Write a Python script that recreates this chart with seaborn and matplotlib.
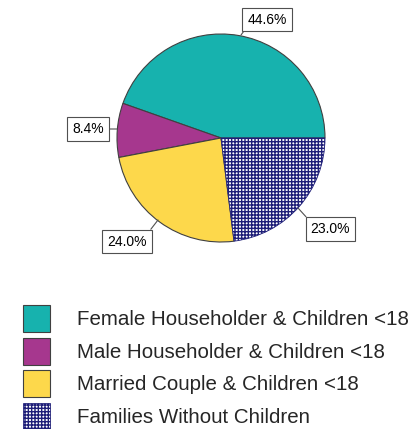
import matplotlib
matplotlib.use("Agg")
import matplotlib.pyplot as plt
import seaborn as sns

# data
categories = [
    "Female Householder & Children <18",
    "Male Householder & Children <18",
    "Married Couple & Children <18",
    "Families Without Children",
]
shares = [44.6, 8.4, 24.0, 23.0]
pct_labels = ["44.6%", "8.4%", "24.0%", "23.0%"]
colors = ["#17B2AE", "#A6378E", "#FDD84B", "white"]

sns.set_style("white")
plt.rcParams["font.family"] = ["Liberation Sans", "DejaVu Sans"]

W, H = 410, 429
fig = plt.figure(figsize=(W / 100, H / 100), dpi=100)

cx, cy, r = 221, 138, 104
ax = fig.add_axes([(cx - r) / W, (H - cy - r) / H, 2 * r / W, 2 * r / H])

wedges, _ = ax.pie(
    shares,
    colors=colors,
    startangle=0,
    counterclock=True,
    wedgeprops=dict(edgecolor="#404040", linewidth=0.8),
)
navy = "#1E1E78"
wedges[3].set_hatch("+++++")
wedges[3].set_edgecolor(navy)
wedges[3].set_linewidth(0.6)
ax.set_xlim(-1, 1)
ax.set_ylim(-1, 1)
ax.set_aspect("equal")
ax.axis("off")


def px(x, y):
    return (x - cx) / r, (cy - y) / r


# label box centre, leader end on the pie, arrow anchor on the box
label_pos = [(267, 19.5), (88, 129), (127, 241.5), (330.5, 229)]
edge_pts = [(241, 35), (117, 129), (158, 220), (298, 208)]
relpos = [(0, 0), (1, 0.5), (1, 1), (0, 1)]

for txt, lp, ep, rp in zip(pct_labels, label_pos, edge_pts, relpos):
    ax.annotate(
        txt,
        xy=px(*ep),
        xytext=px(*lp),
        ha="center",
        va="center",
        fontsize=10,
        color="black",
        bbox=dict(boxstyle="square,pad=0.35", fc="white", ec="#505050", lw=0.8),
        arrowprops=dict(arrowstyle="-", color="#505050", lw=0.8,
                        shrinkA=0, shrinkB=0, relpos=rp),
        annotation_clip=False,
    )

# legend: 27 px squares, rows 32.5 px apart
fs = 14.8
em = fs * 100 / 72
sq = 27 / em
hh = (sq - 0.245) / 0.65
fig.legend(
    wedges,
    categories,
    loc="upper left",
    bbox_to_anchor=(23 / W, (H - 305) / H),
    bbox_transform=fig.transFigure,
    frameon=False,
    fontsize=fs,
    handlelength=sq,
    handleheight=hh,
    handletextpad=27 / em,
    labelspacing=(32.5 - 27) / em,
    borderpad=0,
    borderaxespad=0,
)

fig.savefig("out.png", dpi=100)
